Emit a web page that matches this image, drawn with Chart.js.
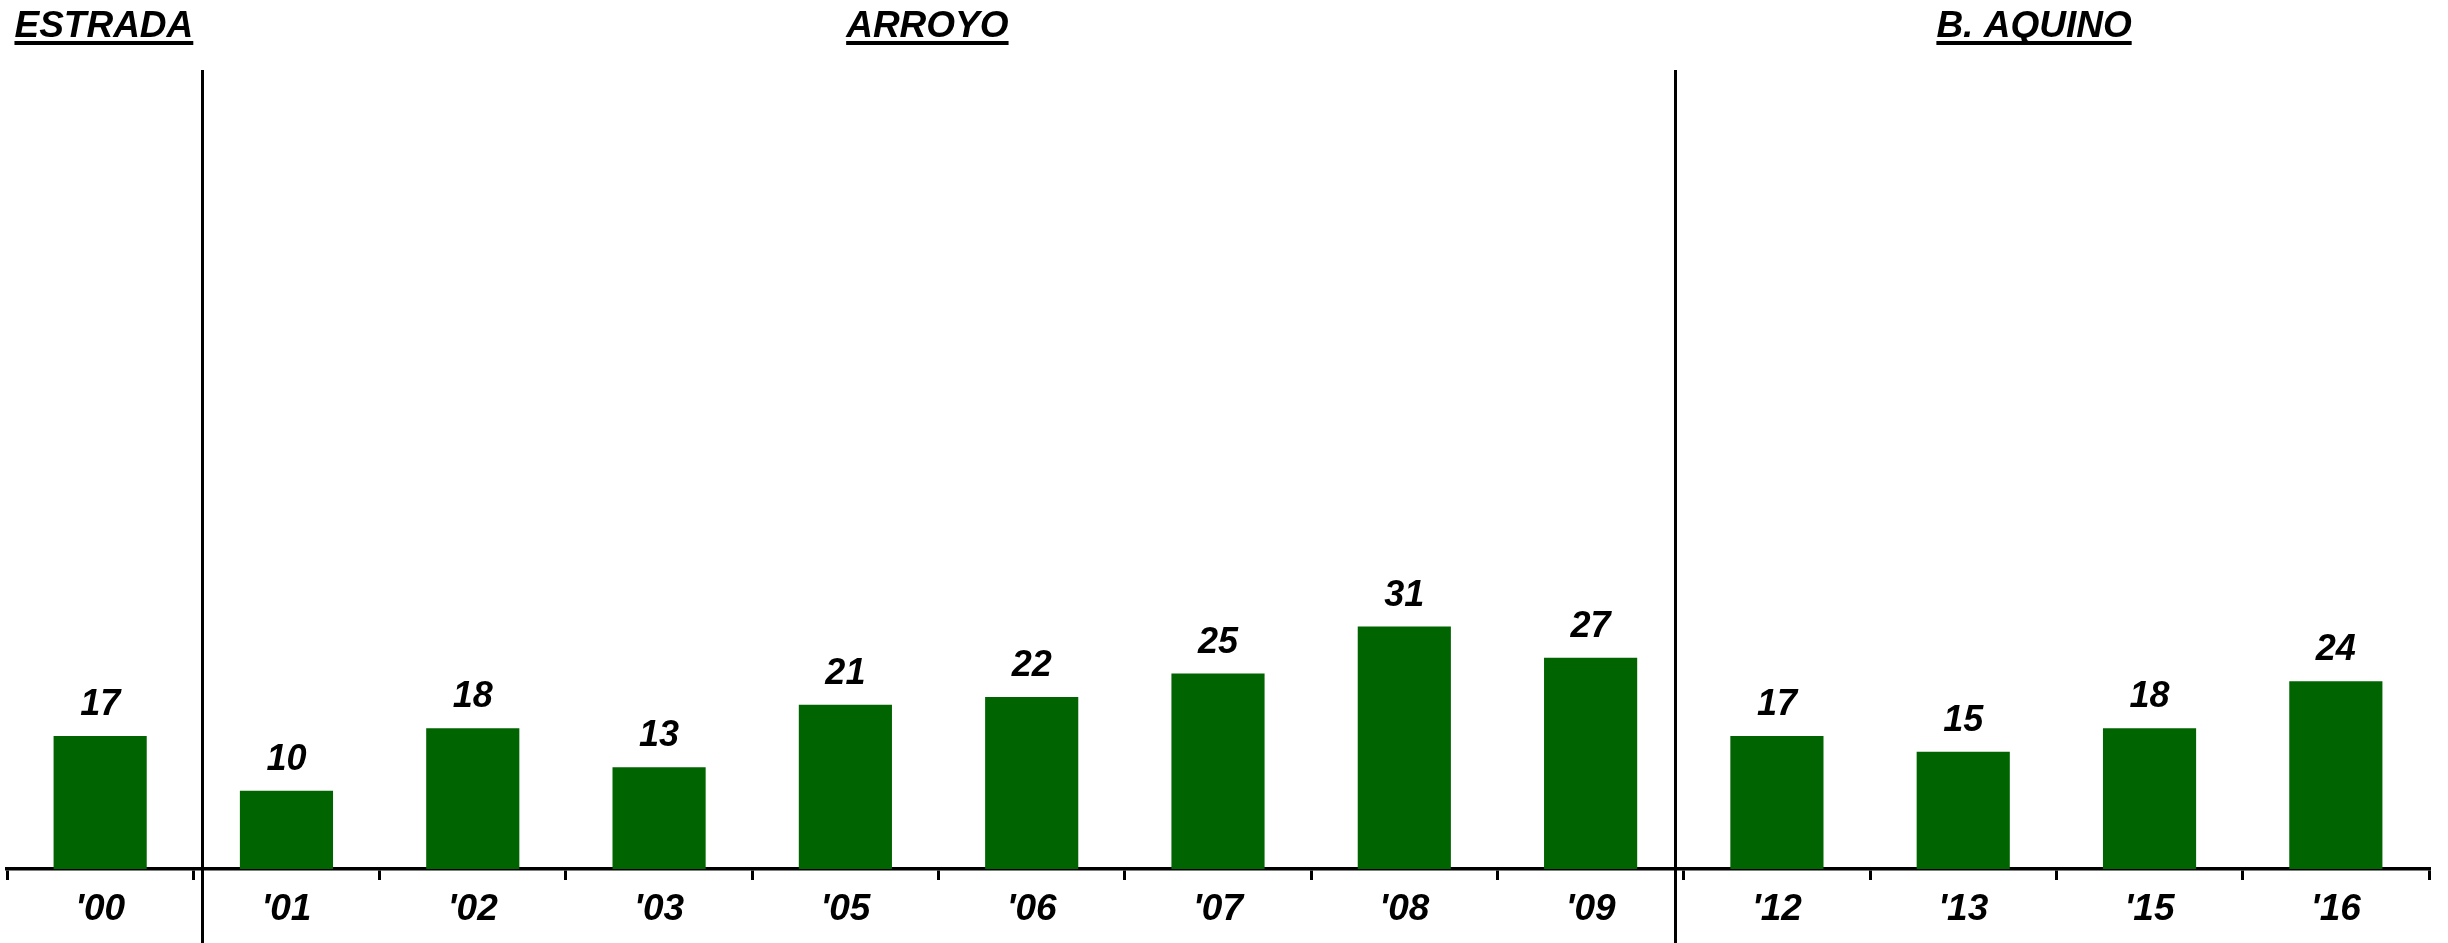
<!DOCTYPE html>
<html>
<head>
<meta charset="utf-8">
<script src="https://cdn.jsdelivr.net/npm/chart.js@4/dist/chart.umd.min.js"></script>
<style>
  html, body { margin: 0; padding: 0; background: #ffffff; }
  #wrap { width: 2448px; height: 943px; position: relative; }
</style>
</head>
<body>
<div id="wrap"><canvas id="myChart"></canvas></div>
<script>
const years = ["'00", "'01", "'02", "'03", "'05", "'06", "'07", "'08", "'09", "'12", "'13", "'15", "'16"];
const values = [17, 10, 18, 13, 21, 22, 25, 31, 27, 17, 15, 18, 24];

// administration headers and where they sit (in category index units)
const presidents = ['ESTRADA', 'ARROYO', 'B. AQUINO'];
const presidentAt = [0.02, 4.44, 10.38];
// term breaks, just after '00 and just before '12
const termBreaks = [0.545, 8.452];

const FONT = 'bold italic 37px "Liberation Sans", Arial, sans-serif';

const barLabels = {
    id: 'barLabels',
    afterDatasetsDraw(chart) {
        const ctx = chart.ctx;
        const meta = chart.getDatasetMeta(0);
        ctx.save();
        ctx.font = 'bold italic 36px "Liberation Sans", Arial, sans-serif';
        ctx.fillStyle = '#000';
        ctx.textAlign = 'center';
        ctx.textBaseline = 'alphabetic';
        meta.data.forEach(function(bar, i) {
            ctx.fillText(values[i], bar.x, bar.y - 21);
        });
        ctx.restore();
    }
};

const termMarks = {
    id: 'termMarks',
    afterDraw(chart) {
        const ctx = chart.ctx;
        const x = chart.scales.x;
        ctx.save();
        // vertical separators between terms
        ctx.strokeStyle = '#000';
        ctx.lineWidth = 3;
        termBreaks.forEach(function(pos) {
            const px = Math.round(x.getPixelForValue(pos)) + 0.5;
            ctx.beginPath();
            ctx.moveTo(px, 70);
            ctx.lineTo(px, chart.height);
            ctx.stroke();
        });
        // underlined president names
        ctx.font = FONT;
        ctx.fillStyle = '#000';
        ctx.textAlign = 'center';
        ctx.textBaseline = 'alphabetic';
        presidents.forEach(function(name, i) {
            const cx = x.getPixelForValue(presidentAt[i]);
            ctx.fillText(name, cx, 37);
            const w = ctx.measureText(name).width;
            ctx.fillRect(cx - w / 2, 41, w, 4);
        });
        ctx.restore();
    }
};

document.addEventListener('DOMContentLoaded', function() {
    const ctx = document.getElementById('myChart').getContext('2d');
    new Chart(ctx, {
        type: 'bar',
        data: {
            labels: years,
            datasets: [{
                data: values,
                backgroundColor: '#006400',
                borderWidth: 0,
                categoryPercentage: 1.0,
                barPercentage: 0.5
            }]
        },
        options: {
            responsive: true,
            maintainAspectRatio: false,
            animation: false,
            layout: { padding: { top: 87, left: 7, right: 19, bottom: 0 } },
            plugins: {
                legend: { display: false },
                title: { display: false },
                tooltip: { enabled: false }
            },
            scales: {
                y: {
                    display: false,
                    min: 0,
                    max: 100
                },
                x: {
                    offset: true,
                    afterFit: function(scale) { scale.height = 74; },
                    border: { display: true, color: '#000', width: 3.5 },
                    grid: {
                        offset: true,
                        drawOnChartArea: false,
                        drawTicks: true,
                        tickLength: 11,
                        color: '#000',
                        lineWidth: 3
                    },
                    ticks: {
                        color: '#000',
                        padding: 8,
                        font: { family: '"Liberation Sans", Arial, sans-serif', size: 37, weight: 'bold', style: 'italic' }
                    }
                }
            }
        },
        plugins: [barLabels, termMarks]
    });
});
</script>
</body>
</html>
